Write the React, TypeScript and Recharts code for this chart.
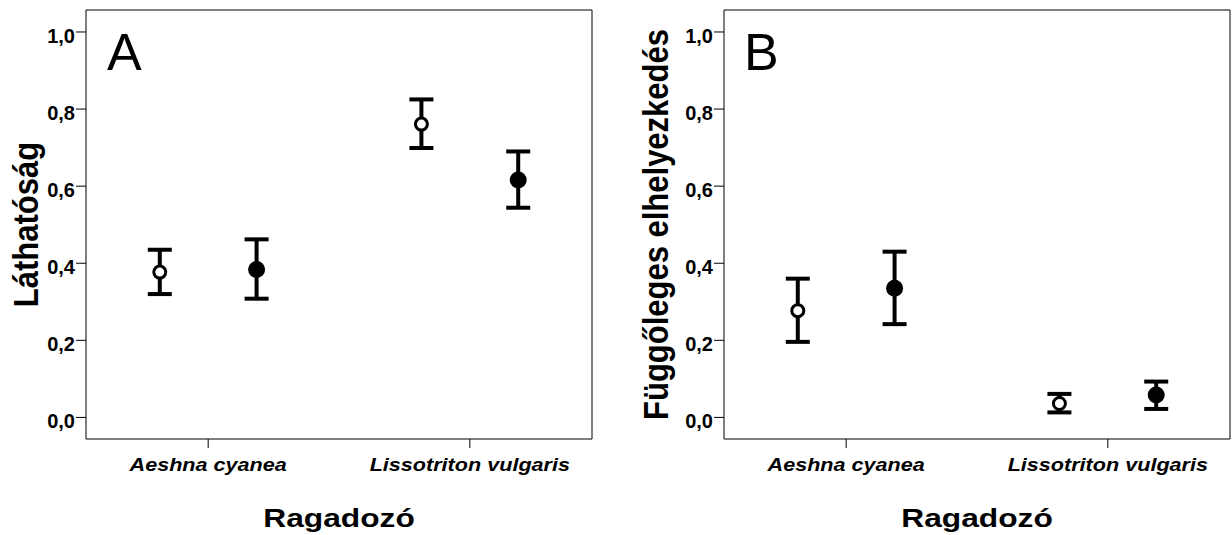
import React from "react";
import {
  ScatterChart,
  Scatter,
  XAxis,
  YAxis,
  ErrorBar,
  ReferenceArea,
  Label,
} from "recharts";

// categories on the x axis
const categories = ["Aeshna cyanea", "Lissotriton vulgaris"];
const categoryPos = [1, 2];
const groupOffset = 0.185;

// y axis ticks
const yTicks = [0, 0.2, 0.4, 0.6, 0.8, 1.0];

// A: Láthatóság (open / filled markers)
const visOpenMean = [0.377, 0.761];
const visOpenLow = [0.32, 0.699];
const visOpenHigh = [0.435, 0.825];
const visFilledMean = [0.384, 0.616];
const visFilledLow = [0.308, 0.544];
const visFilledHigh = [0.462, 0.69];

// B: Függőleges elhelyezkedés
const vertOpenMean = [0.277, 0.036];
const vertOpenLow = [0.196, 0.013];
const vertOpenHigh = [0.36, 0.061];
const vertFilledMean = [0.335, 0.058];
const vertFilledLow = [0.242, 0.022];
const vertFilledHigh = [0.43, 0.093];

const X_DOMAIN: [number, number] = [0.533, 2.467];
const Y_DOMAIN: [number, number] = [-0.056, 1.057];
const FONT = "'Liberation Sans', Arial, Helvetica, sans-serif";

function buildRows(mean: number[], low: number[], high: number[], shift: number) {
  return categories.map((_, i) => ({
    x: categoryPos[i] + shift,
    y: mean[i],
    err: [mean[i] - low[i], high[i] - mean[i]],
  }));
}

const OpenDot = (props: any) => (
  <circle cx={props.cx} cy={props.cy} r={6} fill="#fff" stroke="#000" strokeWidth={3} />
);
const FilledDot = (props: any) => (
  <circle cx={props.cx} cy={props.cy} r={8.5} fill="#000" stroke="none" />
);

const CategoryTick = (props: any) => {
  const { x, y, payload } = props;
  const label = categories[categoryPos.indexOf(payload.value)] ?? "";
  return (
    <g transform={`translate(${x},${y + 21}) scale(1.2,1)`}>
      <text
        x={0}
        y={0}
        textAnchor="middle"
        fontFamily={FONT}
        fontSize={18}
        fontWeight="bold"
        fontStyle="italic"
        fill="#000"
      >
        {label}
      </text>
    </g>
  );
};

const ValueTick = (props: any) => {
  const { x, y, payload } = props;
  return (
    <text
      x={x}
      y={y + 11}
      textAnchor="end"
      fontFamily={FONT}
      fontSize={20}
      fontWeight="bold"
      fill="#000"
    >
      {payload.value.toFixed(1).replace(".", ",")}
    </text>
  );
};

function Panel({
  title,
  letter,
  openRows,
  filledRows,
  axisWidth,
  rightMargin,
  titleBaseline,
  letterLeft,
}: {
  title: string;
  letter: string;
  openRows: any[];
  filledRows: any[];
  axisWidth: number;
  rightMargin: number;
  titleBaseline: number;
  letterLeft: number;
}) {
  return (
    <div style={{ position: "relative", width: 616, height: 535 }}>
      <ScatterChart
        width={616}
        height={535}
        margin={{ top: 10, right: rightMargin, bottom: 0, left: 0 }}
      >
        <XAxis
          type="number"
          dataKey="x"
          domain={X_DOMAIN}
          allowDataOverflow
          ticks={categoryPos}
          tick={<CategoryTick />}
          tickSize={9}
          tickMargin={2}
          tickLine={{ stroke: "#000", strokeWidth: 1 }}
          axisLine={false}
          height={96}
        >
          <Label
            content={(p: any) => {
              const vb = p.viewBox;
              return (
                <g transform={`translate(${vb.x + vb.width / 2},${vb.y + 88}) scale(1.22,1)`}>
                  <text
                    x={0}
                    y={0}
                    textAnchor="middle"
                    fontFamily={FONT}
                    fontSize={26}
                    fontWeight="bold"
                    fill="#000"
                  >
                    Ragadozó
                  </text>
                </g>
              );
            }}
          />
        </XAxis>
        <YAxis
          type="number"
          dataKey="y"
          domain={Y_DOMAIN}
          allowDataOverflow
          ticks={yTicks}
          tick={<ValueTick />}
          tickSize={10}
          tickMargin={1}
          tickLine={{ stroke: "#000", strokeWidth: 1 }}
          axisLine={false}
          width={axisWidth}
        >
          <Label
            content={(p: any) => {
              const vb = p.viewBox;
              const bx = vb.x + titleBaseline;
              const cy = vb.y + vb.height / 2;
              return (
                <g transform={`translate(${bx},${cy}) rotate(-90) scale(1,1.15)`}>
                  <text
                    x={0}
                    y={0}
                    textAnchor="middle"
                    fontFamily={FONT}
                    fontSize={31}
                    fontWeight="bold"
                    fill="#000"
                  >
                    {title}
                  </text>
                </g>
              );
            }}
          />
        </YAxis>
        <ReferenceArea
          x1={X_DOMAIN[0]}
          x2={X_DOMAIN[1]}
          y1={Y_DOMAIN[0]}
          y2={Y_DOMAIN[1]}
          fill="none"
          stroke="#000"
          strokeWidth={1}
          ifOverflow="extendDomain"
        />
        <Scatter data={openRows} shape={OpenDot} isAnimationActive={false}>
          <ErrorBar
            dataKey="err"
            direction="y"
            width={12}
            strokeWidth={4}
            stroke="#000"
            isAnimationActive={false}
          />
        </Scatter>
        <Scatter data={filledRows} shape={FilledDot} isAnimationActive={false}>
          <ErrorBar
            dataKey="err"
            direction="y"
            width={12}
            strokeWidth={4}
            stroke="#000"
            isAnimationActive={false}
          />
        </Scatter>
      </ScatterChart>
      <div
        style={{
          position: "absolute",
          left: letterLeft,
          top: 26,
          fontFamily: FONT,
          fontSize: 52,
          lineHeight: "52px",
          color: "#000",
        }}
      >
        {letter}
      </div>
    </div>
  );
}

export default function App() {
  return (
    <div
      style={{
        position: "absolute",
        left: 0,
        top: 0,
        width: 1232,
        height: 535,
        background: "#fff",
        display: "flex",
      }}
    >
      <Panel
        title="Láthatóság"
        letter="A"
        openRows={buildRows(visOpenMean, visOpenLow, visOpenHigh, -groupOffset)}
        filledRows={buildRows(visFilledMean, visFilledLow, visFilledHigh, groupOffset)}
        axisWidth={86}
        rightMargin={24}
        titleBaseline={38}
        letterLeft={107}
      />
      <Panel
        title="Függőleges elhelyezkedés"
        letter="B"
        openRows={buildRows(vertOpenMean, vertOpenLow, vertOpenHigh, -groupOffset)}
        filledRows={buildRows(vertFilledMean, vertFilledLow, vertFilledHigh, groupOffset)}
        axisWidth={108}
        rightMargin={2}
        titleBaseline={52}
        letterLeft={128}
      />
    </div>
  );
}
